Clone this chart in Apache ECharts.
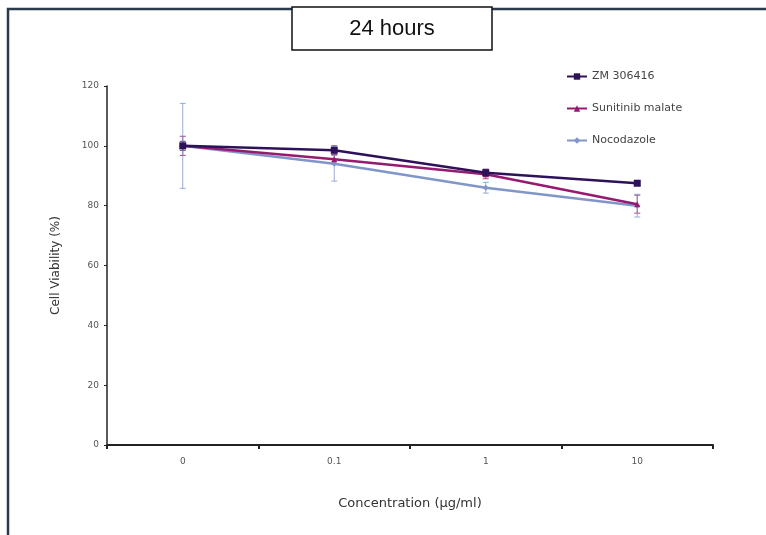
<!DOCTYPE html>
<html lang="en">
<head>
  <meta charset="UTF-8">
  <title>24 hours</title>
  <script src="https://cdn.jsdelivr.net/npm/echarts@6/dist/echarts.min.js"></script>
  <style>
    html, body { margin: 0; padding: 0; background: #fff; }
    #chart { width: 766px; height: 535px; }
  </style>
</head>
<body>
  <div id="chart"></div>
  <script>
    // data
    const categories = ['0', '0.1', '1', '10'];
    const zmValues = [100, 98.5, 91, 87.5];
    const zmErrors = [1.5, 1.5, 1.2, 0.8];
    const sunValues = [100, 95.5, 90.5, 80.5];
    const sunErrors = [3.2, 1.5, 1.5, 3];
    const nocoValues = [100, 94, 86, 80];
    const nocoErrors = [14.2, 5.8, 1.8, 3.8];

    const zmColor = '#2d1259';
    const sunColor = '#961a70';
    const nocoColor = '#8196c8';

    function errData(vals, errs) {
      return vals.map((v, i) => [i, v - errs[i], v + errs[i]]);
    }

    // error bars drawn as a custom series (kept out of the legend)
    function errSeries(name, vals, errs, color) {
      return {
        name: name + ' err',
        type: 'custom',
        data: errData(vals, errs),
        encode: { x: 0, y: [1, 2] },
        z: 1,
        silent: true,
        itemStyle: { color: color },
        renderItem: function (params, api) {
          const lo = api.coord([api.value(0), api.value(1)]);
          const hi = api.coord([api.value(0), api.value(2)]);
          const w = 3;
          const style = { stroke: color, lineWidth: 1, opacity: 0.8 };
          return {
            type: 'group',
            children: [
              { type: 'line', shape: { x1: lo[0], y1: lo[1], x2: hi[0], y2: hi[1] }, style: style },
              { type: 'line', shape: { x1: lo[0] - w, y1: lo[1], x2: lo[0] + w, y2: lo[1] }, style: style },
              { type: 'line', shape: { x1: hi[0] - w, y1: hi[1], x2: hi[0] + w, y2: hi[1] }, style: style }
            ]
          };
        }
      };
    }

    const chart = echarts.init(document.getElementById('chart'));

    const option = {
      animation: false,
      textStyle: { fontFamily: 'DejaVu Sans' },
      grid: { left: 107, right: 53, top: 86, bottom: 90 },
      legend: {
        orient: 'vertical',
        left: 561,
        top: 66,
        itemGap: 21,
        itemWidth: 20,
        itemHeight: 8,
        textStyle: { fontSize: 11, color: '#444', fontFamily: 'DejaVu Sans' },
        data: ['ZM 306416', 'Sunitinib malate', 'Nocodazole']
      },
      xAxis: {
        type: 'category',
        data: categories,
        boundaryGap: true,
        name: 'Concentration (\u03bcg/ml)',
        nameLocation: 'middle',
        nameGap: 52,
        nameTextStyle: { fontSize: 13, color: '#333' },
        axisLine: { lineStyle: { color: '#222', width: 2 } },
        axisTick: { show: true, length: 4, lineStyle: { color: '#222', width: 2 } },
        axisLabel: { fontSize: 9, color: '#555', margin: 12 }
      },
      yAxis: {
        type: 'value',
        min: 0,
        max: 120,
        interval: 20,
        name: 'Cell Viability (%)',
        nameLocation: 'middle',
        nameGap: 45,
        nameTextStyle: { fontSize: 12, color: '#333' },
        axisLine: { show: true, lineStyle: { color: '#222', width: 1.5 } },
        axisTick: { show: true, inside: false, length: 3, lineStyle: { color: '#222' } },
        axisLabel: { fontSize: 9, color: '#555', margin: 8 },
        splitLine: { show: false }
      },
      series: [
        errSeries('ZM 306416', zmValues, zmErrors, zmColor),
        errSeries('Sunitinib malate', sunValues, sunErrors, sunColor),
        errSeries('Nocodazole', nocoValues, nocoErrors, nocoColor),
        {
          name: 'ZM 306416', type: 'line', data: zmValues, z: 4,
          symbol: 'rect', symbolSize: 7,
          lineStyle: { color: zmColor, width: 2.5 },
          itemStyle: { color: zmColor }
        },
        {
          name: 'Sunitinib malate', type: 'line', data: sunValues, z: 3,
          symbol: 'triangle', symbolSize: 6,
          lineStyle: { color: sunColor, width: 2.5 },
          itemStyle: { color: sunColor }
        },
        {
          name: 'Nocodazole', type: 'line', data: nocoValues, z: 2,
          symbol: 'diamond', symbolSize: 6,
          lineStyle: { color: nocoColor, width: 2.5 },
          itemStyle: { color: nocoColor }
        }
      ],
      graphic: [
        {
          type: 'polyline',
          shape: { points: [[8, 535], [8, 9], [766, 9]] },
          style: { stroke: '#2b3b4e', lineWidth: 2.5, fill: null },
          z: 10
        },
        {
          type: 'rect',
          shape: { x: 292, y: 7, width: 200, height: 43 },
          style: { fill: '#fff', stroke: '#111', lineWidth: 1.5 },
          z: 11
        },
        {
          type: 'text',
          x: 392, y: 29,
          style: {
            text: '24 hours', fontSize: 22, fill: '#111',
            fontFamily: 'Liberation Sans Narrow, Liberation Sans, Arial',
            align: 'center', verticalAlign: 'middle'
          },
          z: 12
        }
      ]
    };

    chart.setOption(option);
  </script>
</body>
</html>
